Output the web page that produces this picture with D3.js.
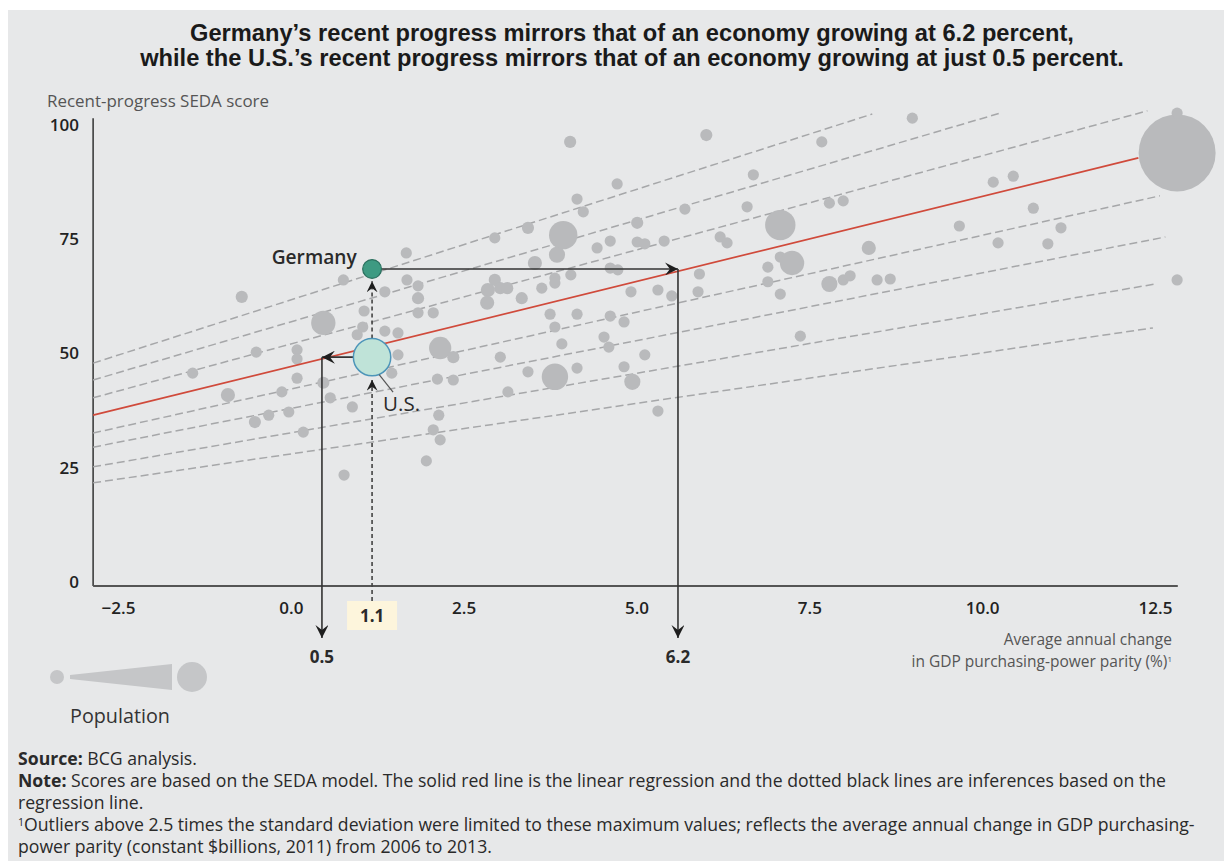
<!DOCTYPE html>
<html><head><meta charset="utf-8">
<script src="https://cdn.jsdelivr.net/npm/d3@7"></script>
<style>
html,body{margin:0;padding:0;background:#fff;}
svg{display:block;}
text{font-family:"Open Sans","Noto Sans",sans-serif;}
</style></head><body>
<svg id="chart" width="1224" height="861"></svg>
<script>
// ---------------- DATA ----------------
const gdpGrowth = [-0.71,0.76,1.36,1.68,1.84,1.84,1.67,0.47,1.06,1.36,1.55,0.96,1.04,1.84,2.06,2.16,2.35,0.09,0.09,-0.50,1.55,-1.42,0.09,2.12,2.35,-0.91,-0.13,0.47,0.57,0.89,1.46,-0.52,-0.32,-0.03,0.18,2.14,2.06,2.16,1.96,0.77,
 4.04,6.01,4.72,6.69,4.14,4.23,5.70,6.60,3.43,3.94,2.95,5.01,4.62,4.43,5.01,5.12,5.40,6.21,6.31,7.08,3.85,3.53,4.62,4.73,4.05,3.82,3.82,2.95,2.85,3.03,2.84,3.13,3.34,3.63,4.92,5.31,5.51,5.91,5.89,6.90,7.08,7.25,6.90,7.08,
 3.75,4.14,4.62,4.82,3.82,4.53,4.60,3.92,5.12,3.03,3.43,4.14,3.82,4.82,4.94,3.14,5.31,7.37,
 8.99,7.68,12.82,12.82,10.16,10.45,7.79,7.99,10.74,9.67,8.36,11.14,10.23,10.95,7.79,7.99,8.09,8.48,8.67,12.82];
const sedaScore = [62.4,66.1,63.5,66.1,64.8,62.1,72.0,56.7,59.3,54.9,54.5,54.1,55.8,58.9,58.9,51.2,49.2,50.8,48.8,50.3,49.7,45.7,44.6,44.4,44.2,40.9,41.6,43.6,40.3,38.3,45.7,35.0,36.5,37.2,32.8,36.5,33.3,31.1,26.5,23.4,
 96.3,97.8,87.1,89.1,83.8,81.0,81.6,82.1,77.5,75.9,75.3,78.6,74.6,73.1,74.4,74.0,74.6,75.5,74.2,78.1,71.6,69.8,68.7,68.3,67.2,66.5,65.4,66.1,63.9,64.3,61.1,64.3,62.1,64.3,63.5,63.9,62.6,67.4,63.5,68.9,71.1,69.8,65.7,63.0,
 58.6,58.6,58.2,56.9,55.8,53.6,51.4,52.1,49.7,49.2,46.0,46.8,44.9,47.1,43.8,41.6,37.4,53.8,
 101.5,96.3,93.9,102.6,87.5,88.8,82.9,83.4,81.8,77.9,73.1,77.5,74.2,74.0,65.2,66.1,67.0,66.1,66.3,66.1];
const population = [34,10,10,10,10,34,10,136,10,10,10,10,10,10,10,114,34,10,10,10,10,10,10,10,10,46,10,34,10,10,10,34,10,10,10,10,10,10,10,10,
 34,34,10,10,10,10,10,10,34,185,10,34,10,10,10,10,10,10,10,212,60,46,10,10,10,10,10,34,46,34,46,34,34,10,10,10,10,10,10,10,10,136,10,10,
 10,10,10,10,10,10,10,10,10,10,10,10,160,10,60,10,10,10,
 10,10,1360,10,10,10,10,10,10,10,46,10,10,10,60,10,10,10,10,10];

const highlightNames = ["U.S.","Germany"];
const highlightGrowth = [1.175,1.175];
const highlightScore = [49.2,68.5];
const highlightPop = [320,81];
const actualGrowthLabel = "1.1";
const inferredGrowth = [0.45,5.60];          // where the regression gives the same score
const inferredLabels = ["0.5","6.2"];

const regressionX = [-2.86,12.26];
const regressionY = [36.5,92.8];
const inferenceLeftX = -2.86;
const inferenceLeftY = [47.9,44.2,40.3,32.6,29.5,25.2,21.7];
const inferenceRightX = [8.41,10.26,12.39,12.57,12.65,12.50,12.47];
const inferenceRightY = [102.4,102.6,103.1,84.5,75.5,65.2,55.6];

const xTicks = [-2.5,0,2.5,5,7.5,10,12.5];
const yTicks = [0,25,50,75,100];

const titleLines = ["Germany’s recent progress mirrors that of an economy growing at 6.2 percent,",
                    "while the U.S.’s recent progress mirrors that of an economy growing at just 0.5 percent."];
const xTitleLines = ["Average annual change","in GDP purchasing-power parity (%)"];

// ---------------- SETUP ----------------
const svg = d3.select("#chart");
const W = 1224, H = 861;
const x = d3.scaleLinear().domain([-2.5,12.5]).range([118,1155]);
const y = d3.scaleLinear().domain([0,100]).range([582,125]);
const r = d3.scaleSqrt().domain([0,1360]).range([0,38.5]);
const rad = p => Math.max(5.6, r(p));

const BG = "#e7e8e9", BUB = "#b9babc", DASH = "#a6a7a9";
const FONT = '"Open Sans","Noto Sans",sans-serif';
const TFONT = '"Liberation Sans",Arial,sans-serif';

function fit(sel, w){
  const n = sel.node(); const cur = n.getComputedTextLength();
  const fs = parseFloat(sel.attr("font-size"));
  sel.attr("font-size", (fs*w/cur).toFixed(2));
  return fs*w/cur;
}

svg.append("rect").attr("x",8).attr("y",10).attr("width",W-8).attr("height",H-10).attr("fill",BG);

const defs = svg.append("defs");
function marker(id, len, half, color){
  defs.append("marker").attr("id",id).attr("viewBox",`${-len} ${-half} ${len} ${half*2}`)
    .attr("refX",0).attr("refY",0).attr("markerWidth",len).attr("markerHeight",half*2)
    .attr("markerUnits","userSpaceOnUse").attr("orient","auto")
    .append("path").attr("d",`M0,0 L${-len},${-half} L${-len*0.62},0 L${-len},${half} Z`).attr("fill",color);
}
marker("arr",13,6.5,"#1e1e1e");
marker("arrS",11,5.5,"#1e1e1e");

// ---------------- TITLE ----------------
const tProbe = svg.append("text").attr("font-weight",700).attr("font-size",19).style("font-family",TFONT).text(titleLines[1]);
const tfs = fit(tProbe, 984); tProbe.remove();
svg.append("g").selectAll("text").data(titleLines).join("text")
  .attr("x",632).attr("y",(d,i)=>41+i*25).attr("text-anchor","middle")
  .attr("font-weight",700).attr("fill","#1a1a1a").attr("font-size",tfs).style("font-family",TFONT)
  .text(d=>d);

// ---------------- AXES ----------------
const yl = svg.append("text").attr("x",47).attr("y",107).attr("font-size",13).attr("fill","#555").text("Recent-progress SEDA score");
fit(yl, 222);

const xAxis = d3.axisBottom(x).tickValues(xTicks).tickSize(0).tickPadding(0).tickFormat(d=>d<0?"\u22122.5":d3.format(".1f")(d));
const gx = svg.append("g").attr("transform","translate(0,614)").call(xAxis);
gx.select(".domain").remove();
gx.selectAll("text").attr("dy",0).attr("font-size",17).attr("font-weight",600).attr("fill","#222")
  .style("font-family",FONT);

const yAxis = d3.axisLeft(y).tickValues(yTicks).tickSize(0).tickPadding(0);
const gy = svg.append("g").attr("transform","translate(79,0)").call(yAxis);
gy.select(".domain").remove();
gy.selectAll("text").attr("font-size",17).attr("font-weight",600).attr("fill","#222")
  .style("font-family",FONT);

svg.append("line").attr("x1",x(-2.86)).attr("x2",x(-2.86)).attr("y1",y(101.5)).attr("y2",y(-0.9))
  .attr("stroke","#333").attr("stroke-width",1.5);
svg.append("line").attr("x1",x(-2.86)).attr("x2",x(12.83)).attr("y1",y(-0.9)).attr("y2",y(-0.9))
  .attr("stroke","#555").attr("stroke-width",2);

// x-axis title
const xtProbe = svg.append("text").attr("font-size",14).style("font-family",TFONT).text(xTitleLines[1]);
const xfs = Math.min(15.5, fit(xtProbe, 281)); xtProbe.remove();
const xtg = svg.append("g").attr("fill","#555").attr("text-anchor","end").style("font-family",TFONT);
xtg.append("text").attr("x",1172).attr("y",645).attr("font-size",xfs).text(xTitleLines[0]);
const xt2 = xtg.append("text").attr("x",1172).attr("y",667).attr("font-size",xfs);
xt2.append("tspan").text(xTitleLines[1]);
xt2.append("tspan").attr("font-size",8).attr("dy",-5).text("1");

// ---------------- INFERENCE LINES ----------------
svg.append("g").selectAll("line").data(inferenceLeftY).join("line")
  .attr("x1",x(inferenceLeftX)).attr("y1",d=>y(d))
  .attr("x2",(d,i)=>x(inferenceRightX[i])).attr("y2",(d,i)=>y(inferenceRightY[i]))
  .attr("stroke",DASH).attr("stroke-width",1.5).attr("stroke-dasharray","8,4");

// ---------------- BUBBLES ----------------
const pts = gdpGrowth.map((g,i)=>({g, s:sedaScore[i], p:population[i]}));
svg.append("g").selectAll("circle").data(pts).join("circle")
  .attr("cx",d=>x(d.g)).attr("cy",d=>y(d.s)).attr("r",d=>rad(d.p)).attr("fill",BUB);

// regression
svg.append("line").attr("x1",x(regressionX[0])).attr("y1",y(regressionY[0]))
  .attr("x2",x(regressionX[1])).attr("y2",y(regressionY[1]))
  .attr("stroke","#d04a3b").attr("stroke-width",1.7);

// ---------------- ANNOTATIONS ----------------
const usX = x(highlightGrowth[0]), usY = y(highlightScore[0]), usR = rad(highlightPop[0]);
const deX = x(highlightGrowth[1]), deY = y(highlightScore[1]), deR = rad(highlightPop[1]);
const ax = svg.append("g");
ax.append("rect").attr("x",usX-25).attr("y",601).attr("width",50).attr("height",29).attr("fill","#fdf5dc");
ax.append("line").attr("x1",usX).attr("x2",usX).attr("y1",601).attr("y2",usY+usR+4)
  .attr("stroke","#444").attr("stroke-width",1.6).attr("stroke-dasharray","4,3").attr("marker-end","url(#arrS)");
ax.append("line").attr("x1",usX).attr("x2",usX).attr("y1",usY-usR).attr("y2",deY+deR+3)
  .attr("stroke","#444").attr("stroke-width",1.6).attr("stroke-dasharray","4,3").attr("marker-end","url(#arrS)");
const x05 = x(inferredGrowth[0]), x62 = x(inferredGrowth[1]);
ax.append("line").attr("x1",usX-usR).attr("x2",x05).attr("y1",usY).attr("y2",usY)
  .attr("stroke","#333").attr("stroke-width",1.6).attr("marker-end","url(#arr)");
ax.append("line").attr("x1",x05).attr("x2",x05).attr("y1",usY).attr("y2",638)
  .attr("stroke","#333").attr("stroke-width",1.6).attr("marker-end","url(#arr)");
ax.append("line").attr("x1",deX+deR).attr("x2",x62).attr("y1",deY).attr("y2",deY)
  .attr("stroke","#333").attr("stroke-width",1.6).attr("marker-end","url(#arr)");
ax.append("line").attr("x1",x62).attr("x2",x62).attr("y1",deY).attr("y2",638)
  .attr("stroke","#333").attr("stroke-width",1.6).attr("marker-end","url(#arr)");

svg.append("circle").attr("cx",usX).attr("cy",usY).attr("r",usR).attr("fill","#bfe3d8").attr("stroke","#4d95b9").attr("stroke-width",1.5);
svg.append("circle").attr("cx",deX).attr("cy",deY).attr("r",deR).attr("fill","#3e9a82").attr("stroke","#2b6f5e").attr("stroke-width",1.2);

const lab = svg.append("g").attr("fill","#2a2a2a");
const gl = lab.append("text").attr("x",deX-deR-6).attr("y",deY-5).attr("text-anchor","end").attr("font-size",16).attr("font-weight",600).text(highlightNames[1]);
fit(gl, 85);
svg.append("line").attr("x1",usX+usR*0.38).attr("y1",usY+usR*0.93).attr("x2",usX+21).attr("y2",usY+35)
  .attr("stroke","#555").attr("stroke-width",1.2);
const usl = lab.append("text").attr("x",usX+11).attr("y",usY+54).attr("font-size",16).text(highlightNames[0]);
fit(usl, 37);

lab.append("text").attr("x",usX).attr("y",622).attr("text-anchor","middle").attr("font-size",17).attr("font-weight",700).text(actualGrowthLabel);
lab.selectAll("text.inf").data(inferredGrowth).join("text").attr("class","inf")
  .attr("x",d=>x(d)).attr("y",663).attr("text-anchor","middle").attr("font-size",17).attr("font-weight",700)
  .text((d,i)=>inferredLabels[i]);

// ---------------- LEGEND ----------------
const leg = svg.append("g").attr("fill","#c5c6c8");
leg.append("circle").attr("cx",57).attr("cy",677).attr("r",7);
leg.append("path").attr("d","M70,675 L172,664 L172,690 L70,679 Z");
leg.append("circle").attr("cx",192).attr("cy",677).attr("r",15);
const pl = svg.append("text").attr("x",70).attr("y",723).attr("font-size",17).attr("fill","#333").text("Population");
fit(pl, 100);

// ---------------- FOOTER ----------------
const foot = svg.append("g").attr("fill","#2a2a2a");
const fsz = 15;
const f1 = foot.append("text").attr("x",18).attr("y",765).attr("font-size",fsz);
f1.append("tspan").attr("font-weight",700).text("Source:"); f1.append("tspan").text(" BCG analysis.");
const f2 = foot.append("text").attr("x",18).attr("y",787).attr("font-size",fsz);
f2.append("tspan").attr("font-weight",700).text("Note:");
f2.append("tspan").text(" Scores are based on the SEDA model. The solid red line is the linear regression and the dotted black lines are inferences based on the");
const ffs = fit(f2, 1148);
f1.attr("font-size",ffs);
foot.append("text").attr("x",18).attr("y",809).attr("font-size",ffs).text("regression line.");
const f4 = foot.append("text").attr("x",18).attr("y",831).attr("font-size",ffs);
f4.append("tspan").attr("font-size",ffs*0.6).attr("dy",-5).text("1");
f4.append("tspan").attr("dy",5).text("Outliers above 2.5 times the standard deviation were limited to these maximum values; reflects the average annual change in GDP purchasing-");
foot.append("text").attr("x",18).attr("y",853).attr("font-size",ffs).text("power parity (constant $billions, 2011) from 2006 to 2013.");
</script>
</body></html>
